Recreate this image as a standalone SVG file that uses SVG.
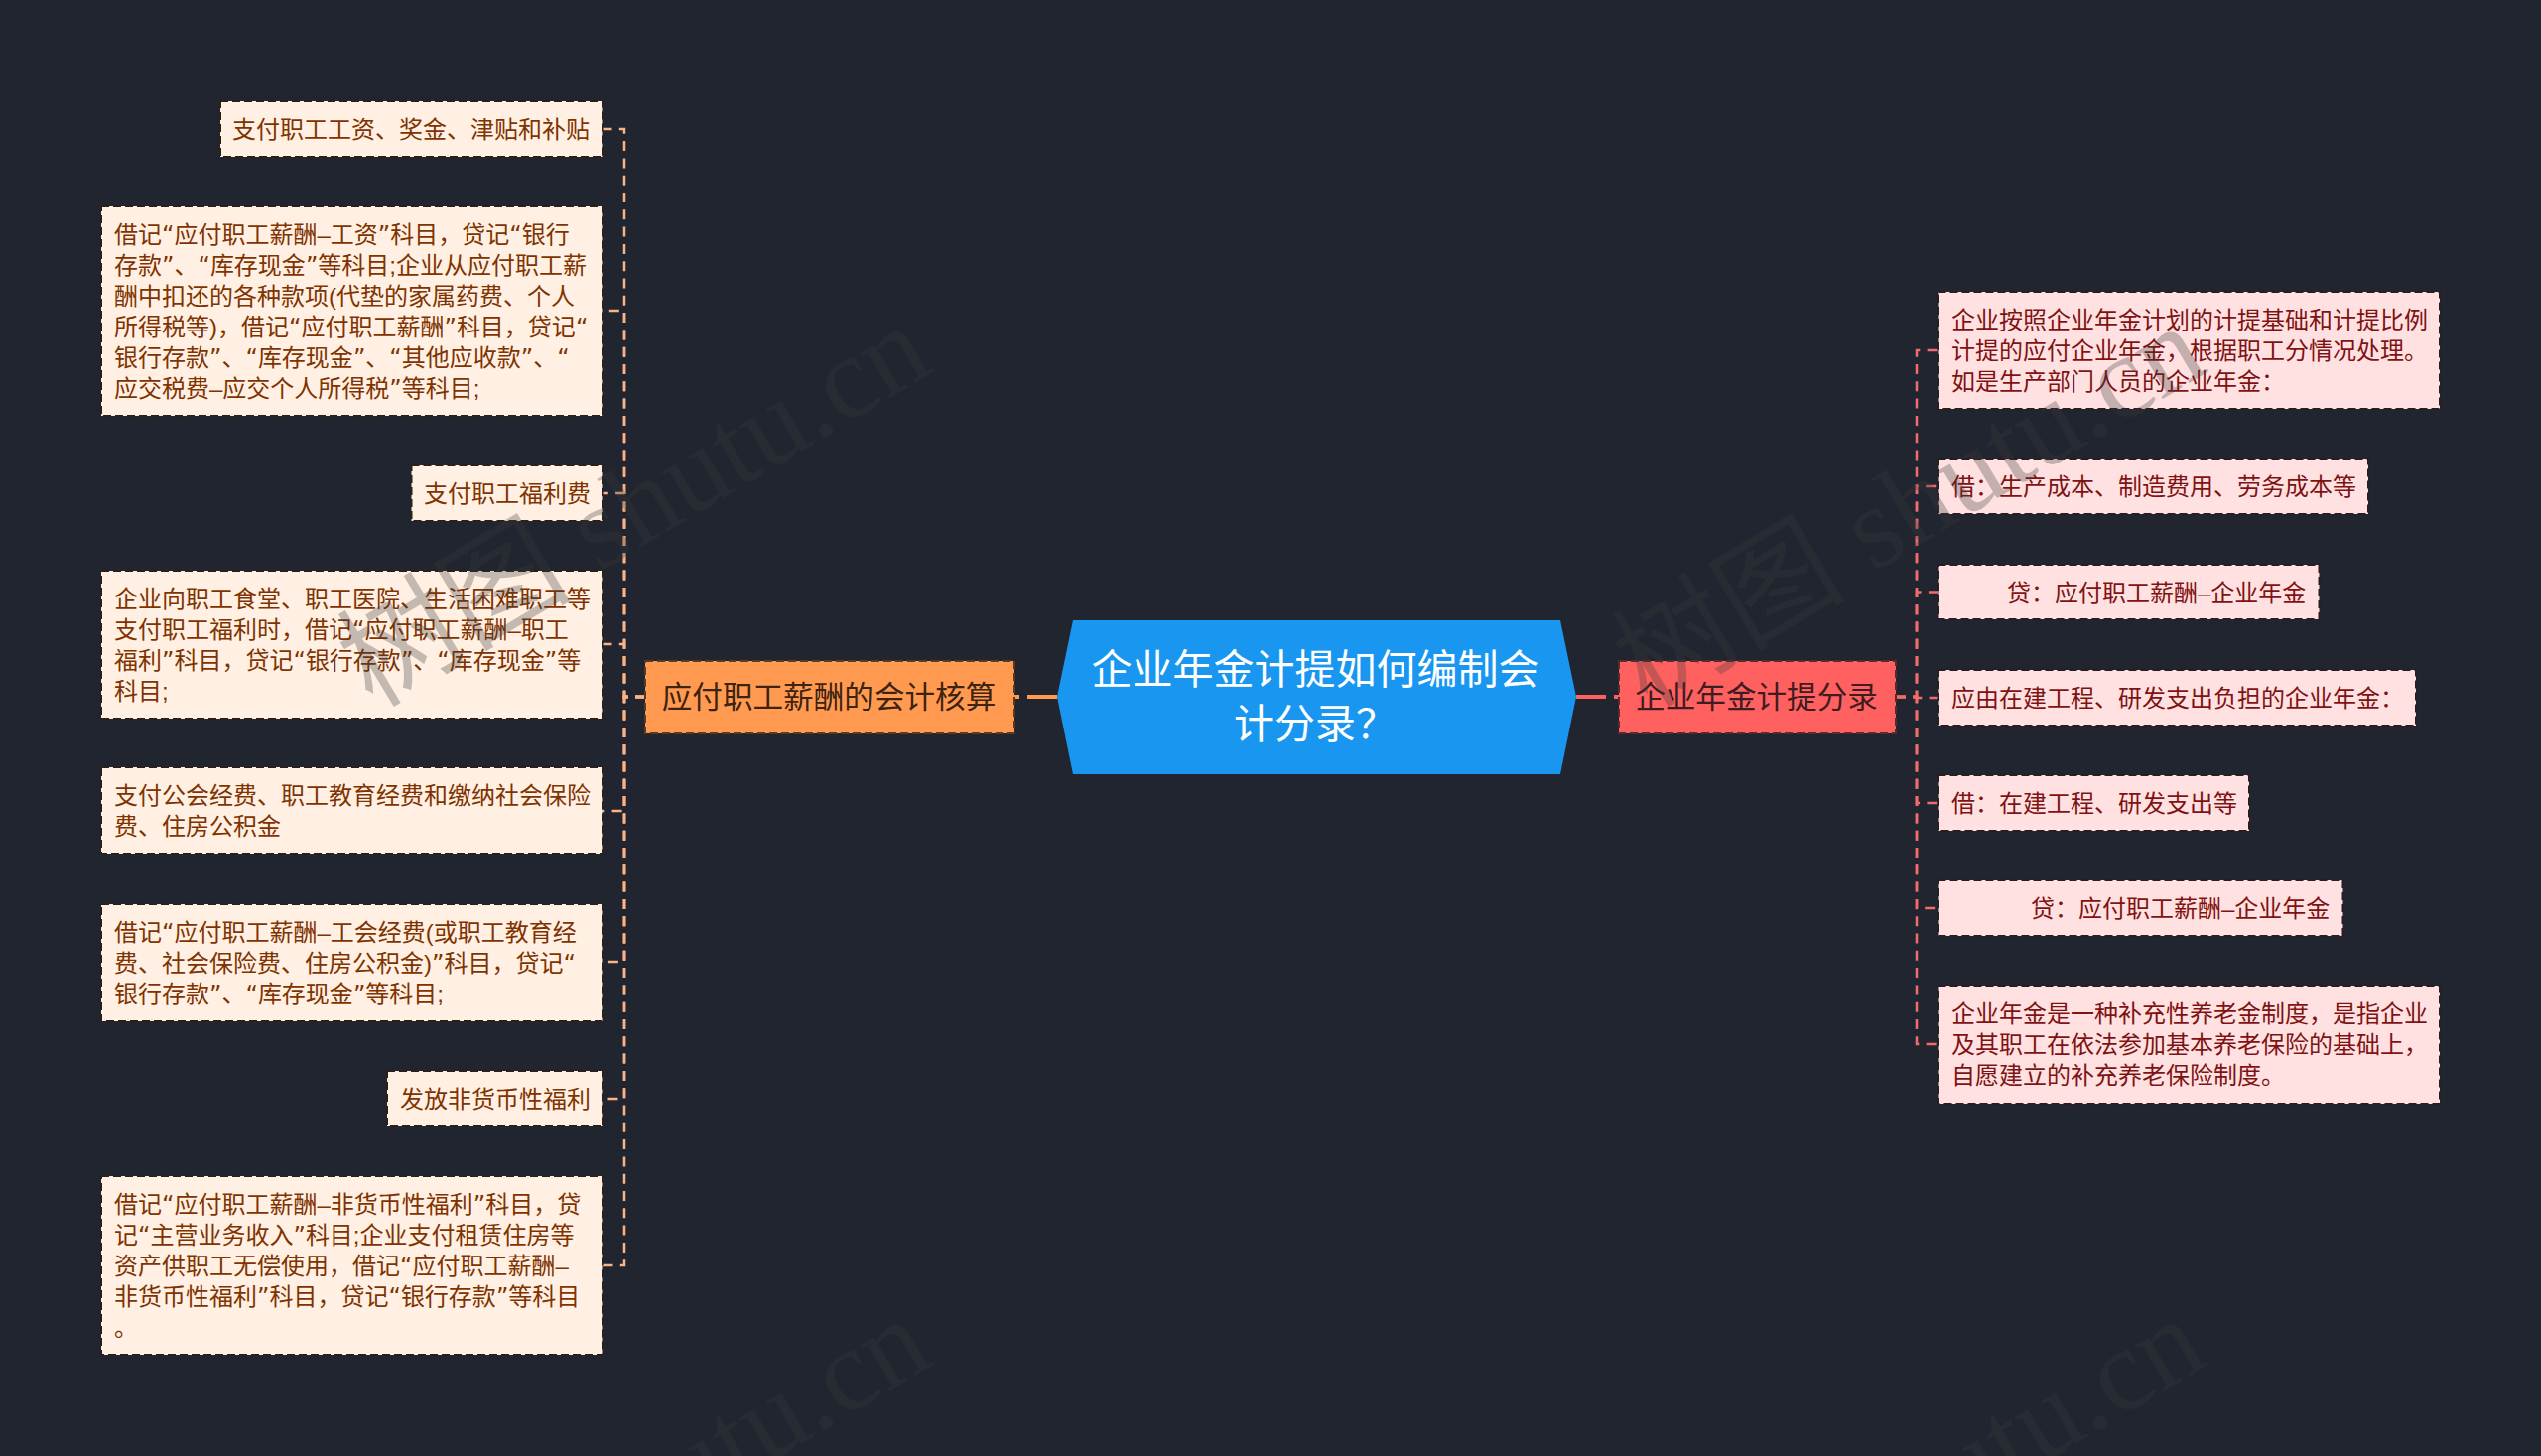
<svg xmlns="http://www.w3.org/2000/svg" width="2560" height="1467" viewBox="0 0 2560 1467">
<style>
text{font-family:"Liberation Sans","Noto Sans CJK SC",sans-serif;white-space:pre}
.q{font-family:"DejaVu Sans","Noto Sans CJK SC",sans-serif}
.box{stroke-width:2;stroke-dasharray:8 4}
.lb{fill:#FFF0E3;stroke:#2b2018}
.rb{fill:#FFE1E1;stroke:#2b1c20}
.lt{font-size:24px;fill:#7F3300}
.rt{font-size:24px;fill:#7F1212}
.mt{font-size:30.6px;text-anchor:middle}
.con{fill:none;stroke-width:2.5;stroke-dasharray:10 7.3}
.cl{stroke:#FBB386}
.cr{stroke:#F26C6C}
.main{fill:none;stroke-width:4;stroke-dasharray:30 8}
.wm{font-family:"Liberation Serif","Noto Sans CJK SC",serif;font-size:118px;fill:#3a3a3a;fill-opacity:.3;text-anchor:end}
</style>
<rect width="2560" height="1467" fill="#212530"/>
<g id="connectors">
<path class="main" style="stroke:#FF9A50" d="M1065 702H1022"/>
<path class="main" style="stroke:#FF6060" d="M1588 702H1631"/>
<path class="con cl" d="M650 702H629V130H607"/>
<path class="con cl" d="M650 702H629V313H607"/>
<path class="con cl" d="M650 702H629V497H607"/>
<path class="con cl" d="M650 702H629V649H607"/>
<path class="con cl" d="M650 702H629V817H607"/>
<path class="con cl" d="M650 702H629V969H607"/>
<path class="con cl" d="M650 702H629V1107H607"/>
<path class="con cl" d="M650 702H629V1275H607"/>
<path class="con cr" d="M1910 702H1931V353H1952"/>
<path class="con cr" d="M1910 702H1931V490H1952"/>
<path class="con cr" d="M1910 702H1931V596.500H1952"/>
<path class="con cr" d="M1910 702H1931V703H1952"/>
<path class="con cr" d="M1910 702H1931V809H1952"/>
<path class="con cr" d="M1910 702H1931V915H1952"/>
<path class="con cr" d="M1910 702H1931V1052H1952"/>
</g>
<g id="root">
<polygon points="1081,625 1572,625 1588,702 1572,780 1081,780 1065,702" fill="#1997F0"/>
<text x="1325" y="689" font-size="41" fill="#fff" text-anchor="middle">企业年金计提如何编制会</text>
<text x="1325" y="744" font-size="41" fill="#fff" text-anchor="middle">计分录？</text>
</g>
<g id="branch-left">
<rect class="box" x="650" y="666" width="372" height="73" fill="#FF9A50" stroke="#5a3a20"/>
<text class="mt" x="835" y="713" fill="#3D2310">应付职工薪酬的会计核算</text>
</g>
<g id="branch-right">
<rect class="box" x="1631" y="666" width="279" height="73" fill="#FF6060" stroke="#5a2a2c"/>
<text class="mt" x="1769.500" y="713" fill="#3E1C1F">企业年金计提分录</text>
</g>
<g id="l1"><rect class="box lb" x="222" y="102" width="385.500" height="56"/><text class="lt" x="234" y="138.500">支付职工工资、奖金、津贴和补贴</text></g>
<g id="l2"><rect class="box lb" x="102" y="208" width="505.500" height="211"/>
<text class="lt" x="115" y="244.500">借记<tspan class="q">“</tspan>应付职工薪酬–工资<tspan class="q">”</tspan>科目，贷记<tspan class="q">“</tspan>银行</text>
<text class="lt" x="115" y="275.500">存款<tspan class="q">”</tspan>、<tspan class="q">“</tspan>库存现金<tspan class="q">”</tspan>等科目;企业从应付职工薪</text>
<text class="lt" x="115" y="306.500">酬中扣还的各种款项(代垫的家属药费、个人</text>
<text class="lt" x="115" y="337.500">所得税等)，借记<tspan class="q">“</tspan>应付职工薪酬<tspan class="q">”</tspan>科目，贷记<tspan class="q">“</tspan></text>
<text class="lt" x="115" y="368.500">银行存款<tspan class="q">”</tspan>、<tspan class="q">“</tspan>库存现金<tspan class="q">”</tspan>、<tspan class="q">“</tspan>其他应收款<tspan class="q">”</tspan>、<tspan class="q">“</tspan></text>
<text class="lt" x="115" y="399.500">应交税费–应交个人所得税<tspan class="q">”</tspan>等科目;</text></g>
<g id="l3"><rect class="box lb" x="414.500" y="469" width="193" height="56"/><text class="lt" x="427" y="505.500">支付职工福利费</text></g>
<g id="l4"><rect class="box lb" x="102" y="575" width="505.500" height="149"/>
<text class="lt" x="115" y="611.500">企业向职工食堂、职工医院、生活困难职工等</text>
<text class="lt" x="115" y="642.500">支付职工福利时，借记<tspan class="q">“</tspan>应付职工薪酬–职工</text>
<text class="lt" x="115" y="673.500">福利<tspan class="q">”</tspan>科目，贷记<tspan class="q">“</tspan>银行存款<tspan class="q">”</tspan>、<tspan class="q">“</tspan>库存现金<tspan class="q">”</tspan>等</text>
<text class="lt" x="115" y="704.500">科目;</text></g>
<g id="l5"><rect class="box lb" x="102" y="773" width="505.500" height="87"/>
<text class="lt" x="115" y="809.500">支付公会经费、职工教育经费和缴纳社会保险</text>
<text class="lt" x="115" y="840.500">费、住房公积金</text></g>
<g id="l6"><rect class="box lb" x="102" y="911" width="505.500" height="118"/>
<text class="lt" x="115" y="947.500">借记<tspan class="q">“</tspan>应付职工薪酬–工会经费(或职工教育经</text>
<text class="lt" x="115" y="978.500">费、社会保险费、住房公积金)<tspan class="q">”</tspan>科目，贷记<tspan class="q">“</tspan></text>
<text class="lt" x="115" y="1009.500">银行存款<tspan class="q">”</tspan>、<tspan class="q">“</tspan>库存现金<tspan class="q">”</tspan>等科目;</text></g>
<g id="l7"><rect class="box lb" x="390" y="1079" width="217.500" height="56"/><text class="lt" x="403" y="1115.500">发放非货币性福利</text></g>
<g id="l8"><rect class="box lb" x="102" y="1185" width="505.500" height="180"/>
<text class="lt" x="115" y="1221.500">借记<tspan class="q">“</tspan>应付职工薪酬–非货币性福利<tspan class="q">”</tspan>科目，贷</text>
<text class="lt" x="115" y="1252.500">记<tspan class="q">“</tspan>主营业务收入<tspan class="q">”</tspan>科目;企业支付租赁住房等</text>
<text class="lt" x="115" y="1283.500">资产供职工无偿使用，借记<tspan class="q">“</tspan>应付职工薪酬–</text>
<text class="lt" x="115" y="1314.500">非货币性福利<tspan class="q">”</tspan>科目，贷记<tspan class="q">“</tspan>银行存款<tspan class="q">”</tspan>等科目</text>
<text class="lt" x="115" y="1345.500">。</text></g>
<g id="r1"><rect class="box rb" x="1952.500" y="294" width="505.500" height="118"/>
<text class="rt" x="1966" y="330.500">企业按照企业年金计划的计提基础和计提比例</text>
<text class="rt" x="1966" y="361.500">计提的应付企业年金，根据职工分情况处理。</text>
<text class="rt" x="1966" y="392.500">如是生产部门人员的企业年金：</text></g>
<g id="r2"><rect class="box rb" x="1952.500" y="462" width="433.500" height="56"/><text class="rt" x="1966" y="498.500">借：生产成本、制造费用、劳务成本等</text></g>
<g id="r3"><rect class="box rb" x="1952.500" y="569" width="384" height="55"/><text class="rt" x="2022" y="605.500">贷：应付职工薪酬–企业年金</text></g>
<g id="r4"><rect class="box rb" x="1952.500" y="675" width="481.500" height="56"/><text class="rt" x="1966" y="711.500">应由在建工程、研发支出负担的企业年金：</text></g>
<g id="r5"><rect class="box rb" x="1952.500" y="781" width="313.500" height="56"/><text class="rt" x="1966" y="817.500">借：在建工程、研发支出等</text></g>
<g id="r6"><rect class="box rb" x="1952.500" y="887" width="408" height="56"/><text class="rt" x="2046" y="923.500">贷：应付职工薪酬–企业年金</text></g>
<g id="r7"><rect class="box rb" x="1952.500" y="993" width="505.500" height="119"/>
<text class="rt" x="1966" y="1029.500">企业年金是一种补充性养老金制度，是指企业</text>
<text class="rt" x="1966" y="1060.500">及其职工在依法参加基本养老保险的基础上，</text>
<text class="rt" x="1966" y="1091.500">自愿建立的补充养老保险制度。</text></g>
<g id="watermark">
<text class="wm" transform="translate(943 373) rotate(-31)">树图 shutu.cn</text>
<text class="wm" transform="translate(2227 373) rotate(-31)">树图 shutu.cn</text>
<text class="wm" transform="translate(943 1373) rotate(-31)">树图 shutu.cn</text>
<text class="wm" transform="translate(2227 1373) rotate(-31)">树图 shutu.cn</text>
</g>
</svg>
